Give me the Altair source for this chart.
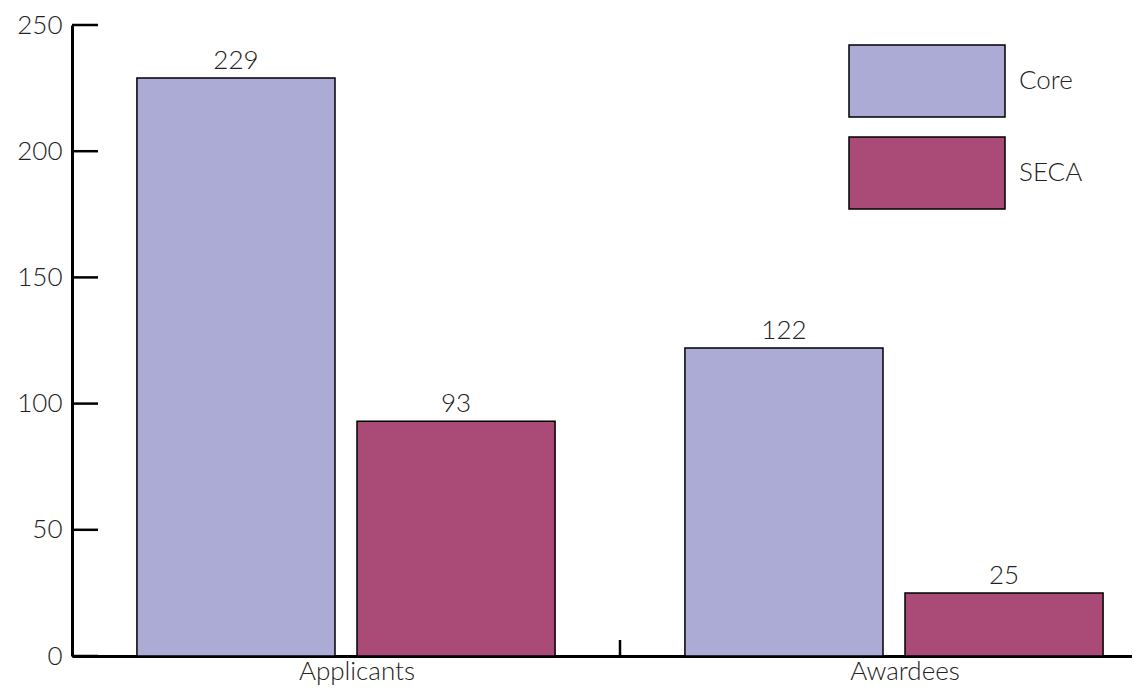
import altair as alt
import pandas as pd

groups = ["Applicants", "Applicants", "Awardees", "Awardees"]
series = ["Core", "SECA", "Core", "SECA"]
values = [229, 93, 122, 25]
series_order = ["Core", "SECA"]
y_ticks = [0, 50, 100, 150, 200, 250]
colors = ["#ABABD6", "#AA4A77"]

df = pd.DataFrame({"group": groups, "series": series, "value": values})
ticks_df = pd.DataFrame({"tick": y_ticks})
sep_df = pd.DataFrame({"group": ["Awardees"]})

FONT = "Lato"
FW = 300
FS = 26
TXT = "#222222"

x_scale = alt.Scale(domain=["Applicants", "Awardees"], range=[0, 1096], paddingInner=0, paddingOuter=0)
y_scale = alt.Scale(domain=[0, 250], nice=False)
off_scale = alt.Scale(domain=series_order, paddingInner=0.1, paddingOuter=0.295)

bars = alt.Chart(df).mark_bar(stroke="black", strokeWidth=1.5).encode(
    x=alt.X("group:N", scale=x_scale,
            axis=alt.Axis(title=None, labelAngle=0, ticks=False, domainWidth=3, domainColor="black",
                          labelFontSize=FS, labelOffset=11, labelPadding=2, labelColor=TXT,
                          labelFont=FONT, labelFontWeight=FW)),
    xOffset=alt.XOffset("series:N", scale=off_scale),
    y=alt.Y("value:Q", scale=y_scale,
            axis=alt.Axis(title=None, values=y_ticks, ticks=False, grid=False, domainWidth=3,
                          domainColor="black", labelPadding=10, labelFontSize=FS, labelColor=TXT,
                          labelFont=FONT, labelFontWeight=FW)),
    color=alt.Color("series:N", scale=alt.Scale(domain=series_order, range=colors),
                    legend=alt.Legend(title=None, orient="none", legendX=818, legendY=19,
                                      symbolType="M-2.1667,-1L2.1667,-1L2.1667,1L-2.1667,1Z",
                                      symbolSize=5184, symbolStrokeColor="black",
                                      symbolStrokeWidth=1.5, symbolOpacity=1,
                                      labelFontSize=FS, labelOffset=55, rowPadding=14,
                                      padding=0, labelFont=FONT, labelFontWeight=FW,
                                      labelColor=TXT, labelLimit=0)),
)

labels = alt.Chart(df).mark_text(dy=-9, baseline="alphabetic", fontSize=FS, font=FONT,
                                 fontWeight=FW, color=TXT).encode(
    x=alt.X("group:N", scale=x_scale),
    xOffset=alt.XOffset("series:N", scale=off_scale),
    y=alt.Y("value:Q", scale=y_scale),
    text=alt.Text("value:Q"),
)

yticks = alt.Chart(ticks_df).mark_rule(color="black", strokeWidth=2.5).encode(
    y=alt.Y("tick:Q", scale=y_scale),
    x=alt.value(0),
    x2=alt.value(26),
)

sep = alt.Chart(sep_df).mark_rule(color="black", strokeWidth=2.5).encode(
    x=alt.X("group:N", scale=x_scale, bandPosition=0),
    y=alt.value(615),
    y2=alt.value(631),
)

chart = alt.layer(bars, labels, yticks, sep).properties(
    width=1060,
    height=631,
    autosize=alt.AutoSizeParams(type="none"),
    padding={"left": 64, "top": 17, "right": 0, "bottom": 30},
    background="white",
).configure_view(stroke=None)

chart.save("out.html", embed_options={"renderer": "svg", "actions": False})
